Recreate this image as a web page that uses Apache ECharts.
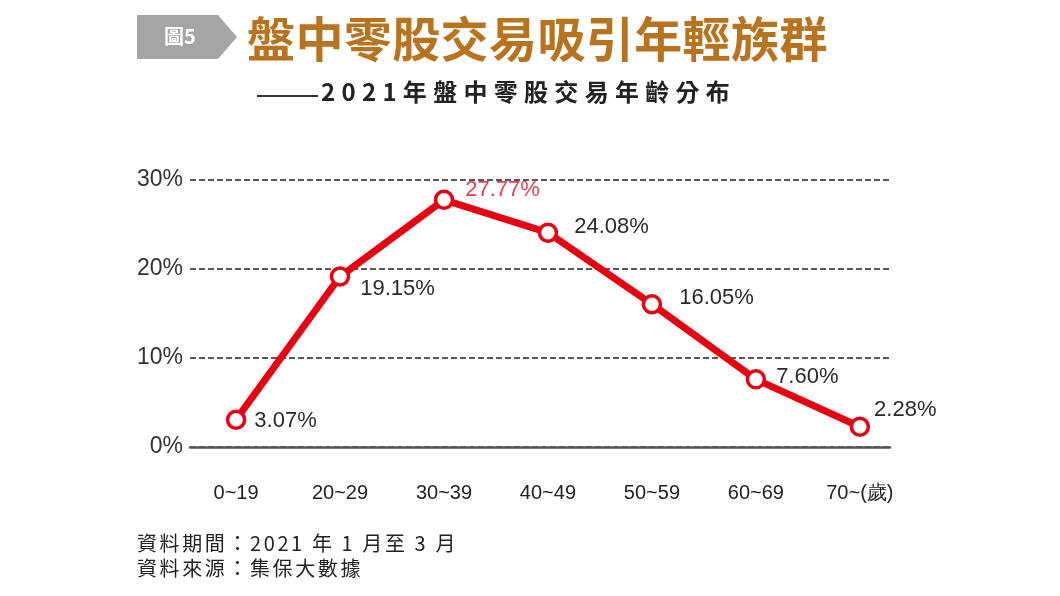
<!DOCTYPE html>
<html lang="zh-Hant">
<head>
    <meta charset="utf-8">
    <title>盤中零股交易吸引年輕族群</title>
    <script src="https://cdn.jsdelivr.net/npm/echarts@6/dist/echarts.min.js"></script>
    <style>
        html, body { margin: 0; padding: 0; background: #fff; }
    </style>
</head>
<body>
<div id="main" style="width:1060px;height:596px;"></div>

<script type="text/javascript">
    // 年齡分組與占比 (%)
    var ageGroups = ['0~19', '20~29', '30~39', '40~49', '50~59', '60~69', '70~(歲)'];
    var shares = [3.07, 19.15, 27.77, 24.08, 16.05, 7.60, 2.28];
    var yTicks = [0, 10, 20, 30];

    var mainTitle = '盤中零股交易吸引年輕族群';
    var subTitle = '2021年盤中零股交易年齡分布';
    var notes = ['資料期間：2021 年 1 月至 3 月', '資料來源：集保大數據'];

    var red = '#e60012';
    var cjk = '"Noto Sans CJK TC", "Noto Sans CJK SC", sans-serif';
    var latin = '"Liberation Sans", Arial, sans-serif';

    // zrender 沒有字距設定，逐字擺放
    var measureCtx = document.createElement('canvas').getContext('2d');
    function spacedText(text, x, y, font, spacing, color) {
        measureCtx.font = font;
        var children = [];
        var cx = 0;
        text.split('').forEach(function (ch) {
            children.push({
                type: 'text', x: cx, y: 0,
                style: { text: ch, font: font, fill: color }
            });
            cx += measureCtx.measureText(ch).width + spacing;
        });
        return { type: 'group', x: x, y: y, children: children };
    }

    // 每個數值標籤相對於點的偏移 [距離, 垂直位移]，最高點用紅字
    var labelPos = [[8, 1], [10, 12], [11, -10], [16, -6], [17, -6], [10, -2], [4, -17]];

    var points = shares.map(function (v, i) {
        return {
            value: [i, v],
            label: {
                distance: labelPos[i][0],
                offset: [0, labelPos[i][1]],
                color: v === Math.max.apply(null, shares) ? '#ee3a50' : '#2a2a2a'
            }
        };
    });

    var myChart = echarts.init(document.getElementById('main'));

    var option = {
        backgroundColor: '#fff',
        animation: false,
        grid: { left: 190, right: 170, top: 180, bottom: 149 },
        xAxis: {
            type: 'value',
            min: -0.443,
            max: 6.29,
            axisLine: { show: true, lineStyle: { color: '#555', width: 2.5 } },
            axisTick: { show: false },
            splitLine: { show: false },
            axisLabel: {
                customValues: ageGroups.map(function (_, i) { return i; }),
                formatter: function (v) { return ageGroups[Math.round(v)]; },
                margin: 36,
                fontFamily: latin,
                fontSize: 20,
                color: '#222'
            }
        },
        yAxis: {
            type: 'value',
            min: yTicks[0],
            max: yTicks[yTicks.length - 1],
            interval: 10,
            axisLine: { show: false },
            axisTick: { show: false },
            axisLabel: {
                formatter: '{value}%',
                margin: 7,
                fontFamily: latin,
                fontSize: 23,
                color: '#333'
            },
            splitLine: { lineStyle: { color: '#222', width: 1.5, type: [6, 3] } }
        },
        series: [{
            type: 'line',
            data: points,
            lineStyle: { color: red, width: 7 },
            symbol: 'circle',
            symbolSize: 17,
            itemStyle: { color: '#fff', borderColor: red, borderWidth: 3.5 },
            label: {
                show: true,
                position: 'right',
                fontFamily: latin,
                fontSize: 22,
                formatter: function (p) { return p.value[1].toFixed(2) + '%'; }
            },
            z: 5
        }],
        graphic: [
            {
                type: 'polygon',
                shape: { points: [[137, 15], [218, 15], [237, 37], [218, 59], [137, 59]] },
                style: { fill: '#a5a5a5' }
            },
            {
                type: 'text', left: 164, top: 26,
                style: { text: '圖5', fill: '#fff', font: 'bold 20px ' + cjk }
            },
            spacedText(mainTitle, 247, 15, 'bold 48px ' + cjk, 0.4, '#b8731f'),
            {
                type: 'line',
                shape: { x1: 257, y1: 96, x2: 318, y2: 96 },
                style: { stroke: '#333', lineWidth: 2 }
            },
            spacedText(subTitle, 321, 80, 'bold 24px ' + cjk, 6.3, '#222'),
            spacedText(notes[0], 137, 533, '20px ' + cjk, 2.6, '#222'),
            spacedText(notes[1], 137, 558, '20px ' + cjk, 2.6, '#222')
        ]
    };

    myChart.setOption(option);
</script>
</body>
</html>
